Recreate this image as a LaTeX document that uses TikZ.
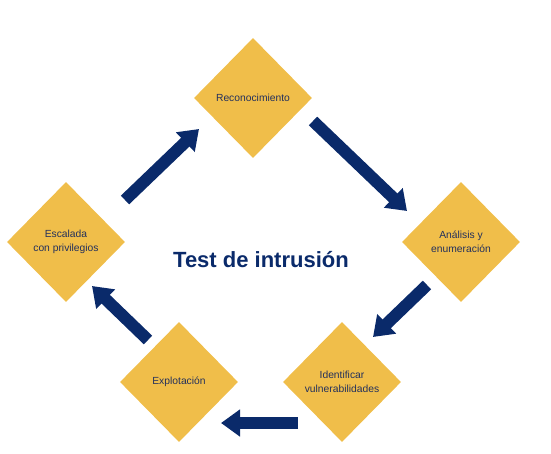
\documentclass[tikz,border=0pt]{standalone}
\usepackage{fontspec}
\setmainfont{Liberation Sans}
\usetikzlibrary{arrows.meta, shapes.geometric, calc}
\definecolor{goldc}{RGB}{240,190,74}
\definecolor{navyc}{RGB}{10,42,106}
\definecolor{inkc}{RGB}{35,48,92}
\tikzset{
  stage/.style={
    diamond, aspect=1, fill=goldc, draw=none,
    minimum width=118pt, minimum height=120pt, inner sep=0pt,
    align=center, text=inkc, font=\fontsize{10.3}{14}\selectfont
  },
  flow/.style={-{Triangle[width=26pt, length=19pt]}, line width=12pt, draw=navyc},
  headline/.style={font=\fontsize{22}{26}\selectfont\bfseries, text=navyc},
}

\begin{document}
\begin{tikzpicture}[x=1pt, y=-1pt]

  \useasboundingbox (0,0) rectangle (551,453);

  \node[stage] (rec) at (253,98)  {Reconocimiento};
  \node[stage] (ana) at (461,242) {Análisis y\\enumeración};
  \node[stage] (ide) at (342,382) {Identificar\\vulnerabilidades};
  \node[stage] (exp) at (179,382) {Explotación};
  \node[stage] (esc) at (66,242)  {Escalada\\con privilegios};

  \node[headline] (tit) at (261,260) {Test de intrusión};

  % the cycle, clockwise
  \draw[flow] ($(esc)+(59,-42)$) -- ($(rec)+(-54,31)$);
  \draw[flow] ($(rec)+(60,23)$)  -- ($(ana)+(-54,-31)$);
  \draw[flow] ($(ana)+(-34,43)$) -- ($(ide)+(31,-45)$);
  \draw[flow] ($(ide)+(-44,41)$) -- ($(exp)+(42,41)$);
  \draw[flow] ($(exp)+(-31,-42)$) -- ($(esc)+(26,44)$);

\end{tikzpicture}
\end{document}
